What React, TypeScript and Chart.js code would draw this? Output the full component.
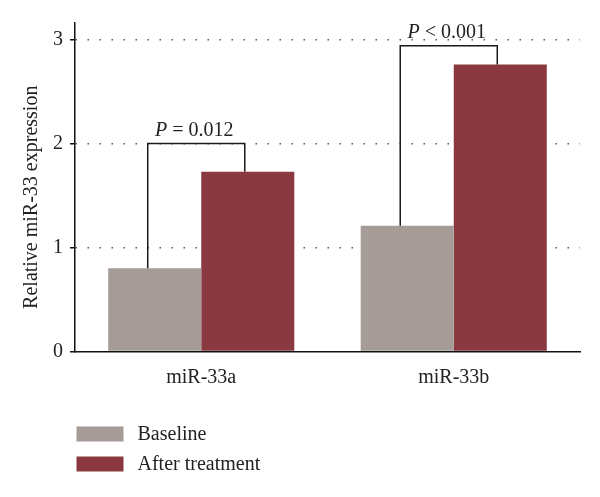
import { useEffect, useRef } from "react";
import { Chart, registerables } from "chart.js";

Chart.register(...registerables);

const categories = ["miR-33a", "miR-33b"];
const seriesLabels = ["Baseline", "After treatment"];
const baseline = [0.8, 1.21];
const afterTreatment = [1.73, 2.76];
const seriesColors = ["#A59C97", "#8A3940"];
const yTicks = [0, 1, 2, 3];
const yTitle = "Relative miR-33 expression";
const bracketTops = [2.0, 2.94];
const pSigns = ["=", "<"];
const pValues = ["0.012", "0.001"];

const FAMILY = '"Liberation Serif", "Times New Roman", serif';
const TEXT = "#222";

const bracketPlugin = {
  id: "brackets",
  afterDatasetsDraw(chart: any) {
    const ctx = chart.ctx;
    const y = chart.scales.y;
    const m0 = chart.getDatasetMeta(0);
    const m1 = chart.getDatasetMeta(1);
    categories.forEach((_, i) => {
      const b0 = m0.data[i];
      const b1 = m1.data[i];
      const xl = b0.x - 7;
      const xr = b1.x - 3;
      const yt = y.getPixelForValue(bracketTops[i]);
      ctx.save();
      ctx.strokeStyle = "#1a1a1a";
      ctx.lineWidth = 1.5;
      ctx.beginPath();
      ctx.moveTo(xl, b0.y);
      ctx.lineTo(xl, yt);
      ctx.lineTo(xr, yt);
      ctx.lineTo(xr, b1.y);
      ctx.stroke();
      const italic = `italic 20px ${FAMILY}`;
      const normal = `20px ${FAMILY}`;
      const rest = ` ${pSigns[i]} ${pValues[i]}`;
      ctx.font = italic;
      const wP = ctx.measureText("P").width;
      ctx.font = normal;
      const wR = ctx.measureText(rest).width;
      const start = (xl + xr) / 2 - (wP + wR) / 2 - 2;
      const base = yt - 8;
      ctx.fillStyle = TEXT;
      ctx.textBaseline = "alphabetic";
      ctx.textAlign = "left";
      ctx.font = italic;
      ctx.fillText("P", start, base);
      ctx.font = normal;
      ctx.fillText(rest, start + wP, base);
      ctx.restore();
    });
  },
};

const yTitlePlugin = {
  id: "yTitle",
  afterDraw(chart: any) {
    const ctx = chart.ctx;
    const { top, bottom } = chart.chartArea;
    ctx.save();
    ctx.translate(32, (top + bottom) / 2 + 10);
    ctx.rotate(-Math.PI / 2);
    ctx.font = `20px ${FAMILY}`;
    ctx.fillStyle = TEXT;
    ctx.textAlign = "center";
    ctx.textBaseline = "middle";
    ctx.fillText(yTitle, 0, 0);
    ctx.restore();
  },
};

const legendPlugin = {
  id: "customLegend",
  afterDraw(chart: any) {
    const ctx = chart.ctx;
    const left = chart.chartArea.left + 1.5;
    const top0 = chart.chartArea.bottom + 75;
    ctx.save();
    seriesLabels.forEach((label, i) => {
      const top = top0 + i * 30;
      ctx.fillStyle = seriesColors[i];
      ctx.fillRect(left, top, 47, 15);
      ctx.fillStyle = TEXT;
      ctx.font = `20px ${FAMILY}`;
      ctx.textBaseline = "middle";
      ctx.textAlign = "left";
      ctx.fillText(label, left + 61, top + 8);
    });
    ctx.restore();
  },
};

export default function App() {
  const ref = useRef<HTMLCanvasElement | null>(null);

  useEffect(() => {
    if (!ref.current) return;
    const chart = new Chart(ref.current, {
      type: "bar",
      data: {
        labels: categories,
        datasets: [
          {
            label: seriesLabels[0],
            data: baseline,
            backgroundColor: seriesColors[0],
            borderWidth: 0,
            categoryPercentage: 0.737,
            barPercentage: 1.0,
          },
          {
            label: seriesLabels[1],
            data: afterTreatment,
            backgroundColor: seriesColors[1],
            borderWidth: 0,
            categoryPercentage: 0.737,
            barPercentage: 1.0,
          },
        ],
      },
      options: {
        animation: false,
        responsive: true,
        maintainAspectRatio: false,
        layout: { padding: { top: 23, right: 20, bottom: 105.5, left: 0 } },
        plugins: {
          legend: { display: false },
          tooltip: { enabled: false },
          title: { display: false },
        },
        scales: {
          x: {
            grid: { display: false, drawTicks: false },
            border: { display: true, color: "#111", width: 1.5 },
            ticks: { color: TEXT, font: { family: FAMILY, size: 20 }, padding: 14 },
            afterFit: (s: any) => {
              s.height = 40;
            },
          },
          y: {
            min: 0,
            max: 3.16,
            afterBuildTicks: (s: any) => {
              s.ticks = yTicks.map((v) => ({ value: v }));
            },
            afterFit: (s: any) => {
              s.width = 75;
            },
            grid: {
              color: (c: any) => (c.tick && c.tick.value === 0 ? "rgba(0,0,0,0)" : "#555"),
              lineWidth: 1.5,
              drawTicks: true,
              tickLength: 5,
              tickColor: "#111",
              tickWidth: 1.5,
              tickBorderDash: [],
            },
            border: { display: true, color: "#111", width: 1.5, dash: [1.5, 10.5], dashOffset: 0 },
            ticks: {
              color: TEXT,
              font: { family: FAMILY, size: 20 },
              padding: 7,
              callback: (v: any) => String(v),
            },
            title: { display: false },
          },
        },
      },
      plugins: [bracketPlugin, yTitlePlugin, legendPlugin],
    });
    return () => chart.destroy();
  }, []);

  return (
    <div style={{ position: "absolute", left: 0, top: 0, width: 600, height: 497, background: "#fff" }}>
      <canvas ref={ref} />
    </div>
  );
}
